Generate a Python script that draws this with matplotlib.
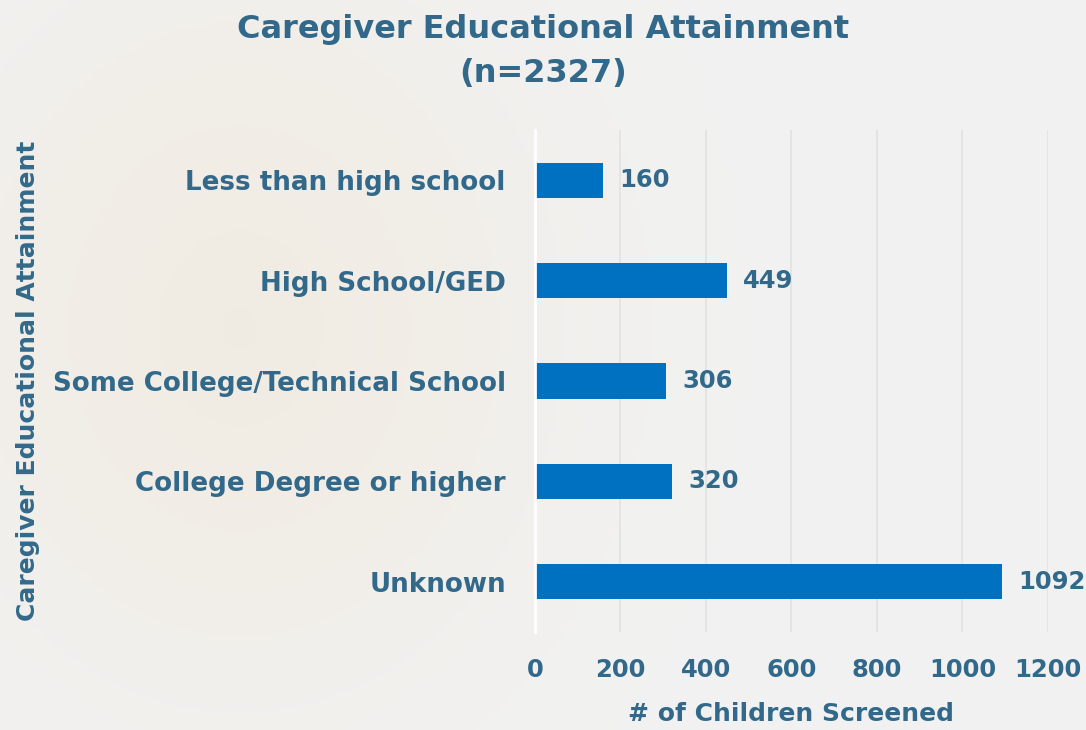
import matplotlib

matplotlib.use("Agg")
import matplotlib.pyplot as plt
import numpy as np

CATEGORIES = ["Less than high school", "High School/GED", "Some College/Technical School",
              "College Degree or higher", "Unknown"]
COUNTS = [160, 449, 306, 320, 1092]
X_TICKS = [0, 200, 400, 600, 800, 1000, 1200]

TEXT_COLOR = "#32698A"
BAR_COLOR = "#0070C0"

plt.rcParams["font.family"] = ["DejaVu Sans"]
plt.rcParams["font.weight"] = "bold"

fig = plt.figure(figsize=(10.86, 7.3), dpi=100)
fig.patch.set_facecolor("#F2F2F2")

# soft warm background glow on the left side
bg = fig.add_axes([0, 0, 1, 1], zorder=-1)
gx, gy = np.meshgrid(np.linspace(0, 1, 300), np.linspace(0, 1, 200))
glow = np.exp(-((gx - 0.22) ** 2 / 0.08 + (gy - 0.45) ** 2 / 0.25))
base = np.array([0.949, 0.949, 0.949])
warm = np.array([0.945, 0.925, 0.890])
img = base + (warm - base) * glow[..., None]
bg.imshow(img, extent=[0, 1, 0, 1], aspect="auto")
bg.axis("off")

ax = fig.add_axes([0.4926, 0.1342, 0.4724, 0.6878])
ax.set_facecolor("none")
y = np.arange(len(CATEGORIES))
ax.barh(y, COUNTS, height=0.35, color=BAR_COLOR, zorder=3)
for yi, v in zip(y, COUNTS):
    ax.text(v + 38, yi, str(v), va="center", ha="left", fontsize=17.5,
            color=TEXT_COLOR, fontweight="bold")

ax.set_xlim(0, 1200)
ax.set_ylim(len(CATEGORIES) - 0.5, -0.5)
ax.set_xticks(X_TICKS)
ax.set_yticks(y)
ax.set_yticklabels(CATEGORIES)
ax.tick_params(axis="x", length=0, labelsize=17.5, labelcolor=TEXT_COLOR, pad=19)
ax.tick_params(axis="y", length=0, labelsize=18.8, labelcolor=TEXT_COLOR, pad=21)
ax.xaxis.grid(True, color="#E2E2E2", lw=1.2, zorder=0)
for s in ["top", "right", "bottom"]:
    ax.spines[s].set_visible(False)
ax.spines["left"].set_color("white")
ax.spines["left"].set_linewidth(2)
ax.spines["left"].set_zorder(4)

ax.set_xlabel("# of Children Screened", fontsize=18, color=TEXT_COLOR,
              fontweight="bold", labelpad=14)
fig.text(0.026, 0.479, "Caregiver Educational Attainment", rotation=90, ha="center",
         va="center", fontsize=18, color=TEXT_COLOR, fontweight="bold")
fig.text(0.5, 0.9295, "Caregiver Educational Attainment\n(n=2327)", ha="center",
         va="center", fontsize=23, color=TEXT_COLOR, fontweight="bold", linespacing=1.55)

fig.savefig("out.png", dpi=100, facecolor=fig.get_facecolor())
plt.close(fig)
